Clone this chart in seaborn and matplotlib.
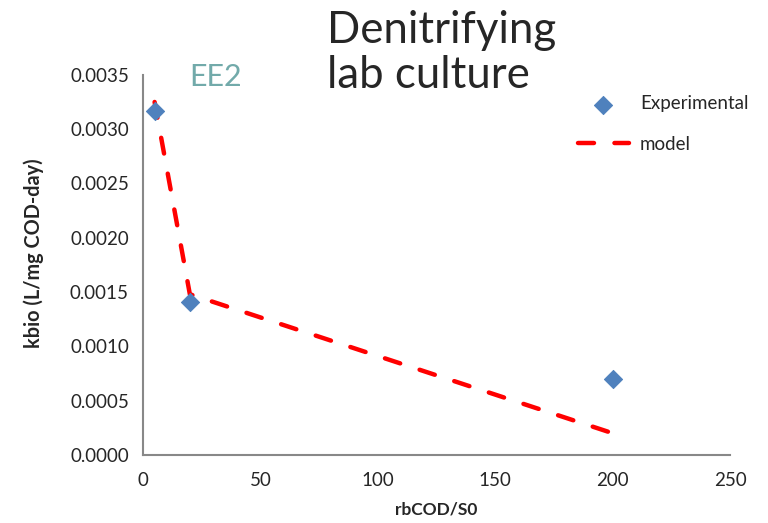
import matplotlib

matplotlib.use("Agg")
import matplotlib.pyplot as plt
import pandas as pd
import seaborn as sns

# Experimental points
exp_x = [5, 20, 200]
exp_y = [0.00317, 0.00141, 0.00070]

# Model curve
model_x = [5, 20, 200]
model_y = [0.00325, 0.00148, 0.00020]

x_ticks = [0, 50, 100, 150, 200, 250]
y_ticks = [0.0, 0.0005, 0.0010, 0.0015, 0.0020, 0.0025, 0.0030, 0.0035]


def plot() -> None:
    sns.set_style("white")
    plt.rcParams["font.family"] = ["Lato", "DejaVu Sans"]

    exp_df = pd.DataFrame({"x": exp_x, "y": exp_y})
    model_df = pd.DataFrame({"x": model_x, "y": model_y})

    fig = plt.figure(figsize=(7.68, 5.23), dpi=100)
    ax = fig.add_axes([0.186, 0.130, 0.765, 0.727])

    sns.lineplot(data=model_df, x="x", y="y", ax=ax, color="#ff0000",
                 linewidth=3.2, label="model")
    model_line = ax.lines[0]
    model_line.set_dashes([3.6, 4.6])
    model_line.set_dash_capstyle("round")
    sns.scatterplot(data=exp_df, x="x", y="y", ax=ax, marker="D", s=85,
                    color="#4f81bd", edgecolor="#4f81bd", label="Experimental",
                    zorder=3)

    ax.set_xlim(0, 250)
    ax.set_ylim(0, 0.0035)
    ax.set_xticks(x_ticks)
    ax.set_yticks(y_ticks)
    ax.set_yticklabels([f"{v:.4f}" for v in y_ticks])
    ax.tick_params(axis="both", labelsize=13.5, direction="out", length=5,
                   color="#888888", pad=5)
    ax.tick_params(axis="x", pad=7)

    for side in ["top", "right"]:
        ax.spines[side].set_visible(False)
    for side in ["left", "bottom"]:
        ax.spines[side].set_color("#888888")
        ax.spines[side].set_linewidth(1.5)

    ax.set_xlabel("rbCOD/S0", fontsize=12.5, fontweight="bold", labelpad=9)
    ax.set_ylabel("kbio (L/mg COD-day)", fontsize=14.3, fontweight="bold")
    ax.yaxis.set_label_coords(-0.168, 0.53)

    handles, labels = ax.get_legend_handles_labels()
    order = [labels.index("Experimental"), labels.index("model")]
    leg = ax.legend([handles[i] for i in order], [labels[i] for i in order],
                    frameon=False, fontsize=13.5, loc="upper left",
                    bbox_to_anchor=(0.712, 0.99), handlelength=2.7,
                    handletextpad=0.6, labelspacing=1.25)
    for line in leg.get_lines():
        line.set_dash_capstyle("round")

    fig.text(0.426, 0.98, "Denitrifying\nlab culture", fontsize=31.5,
             ha="left", va="top", linespacing=1.12)
    fig.text(0.247, 0.835, "EE2", fontsize=22, color="#72aaaa",
             ha="left", va="baseline")

    plt.savefig("out.png", dpi=100)


if __name__ == "__main__":
    plot()
